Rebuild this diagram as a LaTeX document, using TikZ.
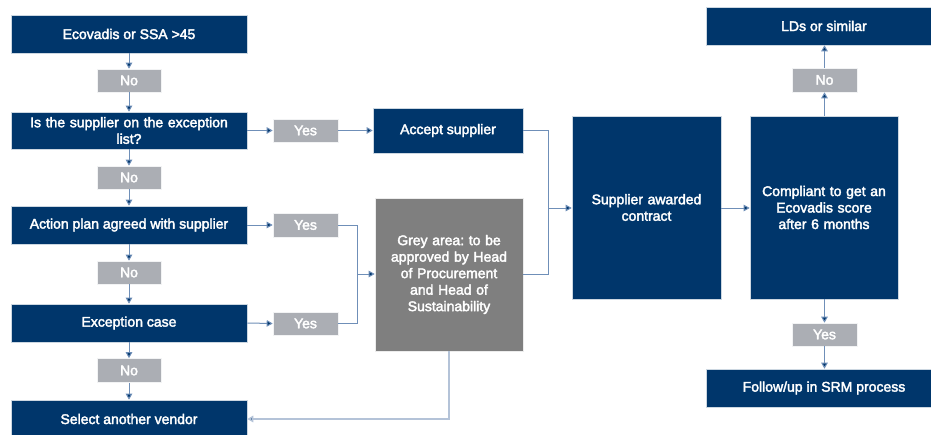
\documentclass[tikz,border=0pt]{standalone}
\usepackage{fontspec}
\setmainfont[FakeBold=2.5]{Liberation Sans}
\usetikzlibrary{arrows.meta}
\definecolor{navy}{HTML}{00366B}
\definecolor{lbl}{HTML}{ABAEB4}
\definecolor{greyarea}{HTML}{7F7F7F}
\definecolor{conn}{HTML}{6F8FB8}
\definecolor{connlight}{HTML}{B4C3D8}
\tikzset{
  txt/.style={text=white, inner sep=0pt, align=center, font=\fontsize{14}{16.5}\selectfont},
  box/.style={txt, draw=white!80!navy, line width=0.6pt, fill=navy},
  lab/.style={txt, draw=white!85!lbl, line width=0.6pt, fill=lbl},
  gbox/.style={txt, draw=white!85!greyarea, line width=0.6pt, fill=greyarea},
  conn/.style={draw=conn, line width=1pt, -{Triangle[width=6.5pt,length=6pt,fill=navy]}},
  plain/.style={draw=conn, line width=1pt},
}
\begin{document}
\frenchspacing
\begin{tikzpicture}[x=1pt,y=-1pt]
\useasboundingbox (0,0) rectangle (931,434);
\clip (0,0) rectangle (931,434);
\fill[white] (0,0) rectangle (931,434);
% left column
\node[box, minimum width=236pt, minimum height=38pt] (eco) at (129,34) {Ecovadis or SSA >45};
\node[lab, minimum width=64pt, minimum height=23pt] (no1) at (129,80.5) {No};
\node[box, minimum width=236pt, minimum height=37pt, text width=230pt] (exl) at (129,130.5) {Is the supplier on the exception\\list?};
\node[lab, minimum width=64pt, minimum height=23pt] (no2) at (129,177.5) {No};
\node[box, minimum width=236pt, minimum height=38pt] (act) at (129,225) {Action plan agreed with supplier};
\node[lab, minimum width=64pt, minimum height=23pt] (no3) at (129,272.5) {No};
\node[box, minimum width=236pt, minimum height=38pt] (exc) at (129,323) {Exception case};
\node[lab, minimum width=64pt, minimum height=24pt] (no4) at (129,370.5) {No};
\node[box, minimum width=236pt, minimum height=38pt] (sel) at (129,419) {Select another vendor};
% yes labels
\node[lab, minimum width=65pt, minimum height=23pt] (y1) at (305.5,130.5) {Yes};
\node[lab, minimum width=65pt, minimum height=24pt] (y2) at (305.5,225) {Yes};
\node[lab, minimum width=65pt, minimum height=23pt] (y3) at (305.5,323.5) {Yes};
% middle
\node[box, minimum width=150pt, minimum height=45pt] (acc) at (448,130.5) {Accept supplier};
\node[gbox, minimum width=148pt, minimum height=153pt, text width=140pt] (grey) at (449,274.5) {Grey area: to be\\approved by Head\\of Procurement\\and Head of\\Sustainability};
\node[box, minimum width=149pt, minimum height=183pt, text width=140pt] (awd) at (646.5,207.5) {Supplier awarded\\contract};
\node[box, minimum width=148pt, minimum height=183pt, text width=140pt] (cmp) at (824,207.5) {Compliant to get an\\Ecovadis score\\after 6 months};
% right column
\node[box, minimum width=236pt, minimum height=38pt] (lds) at (824,26) {};
\node[txt] at (824,26) {LDs or similar};
\node[lab, minimum width=65pt, minimum height=24pt] (no5) at (824.5,80) {No};
\node[lab, minimum width=65pt, minimum height=23pt] (y4) at (824.5,334.5) {Yes};
\node[box, minimum width=236pt, minimum height=38pt] (fol) at (824,388) {};
\node[txt] at (824,388) {Follow/up in SRM process};
% connectors left column
\draw[conn] (eco.south) -- (no1.north);
\draw[conn] (no1.south) -- (exl.north);
\draw[conn] (exl.south) -- (no2.north);
\draw[conn] (no2.south) -- (act.north);
\draw[conn] (act.south) -- (no3.north);
\draw[conn] (no3.south) -- (exc.north);
\draw[conn] (exc.south) -- (no4.north);
\draw[conn] (no4.south) -- (sel.north);
% yes branches
\draw[conn] (exl.east) -- (y1.west);
\draw[conn] (act.east) -- (y2.west);
\draw[conn] (exc.east) -- (y3.west);
\draw[conn] (y1.east) -- (acc.west);
\coordinate (jl) at (357,274);
\draw[plain] (y2.east) -| (jl);
\draw[plain] (y3.east) -| (jl);
\draw[conn] (jl) -- (grey.west |- jl);
% to awarded
\coordinate (jr) at (548,208);
\draw[plain] (acc.east) -| (jr);
\draw[plain] (grey.east) -| (jr);
\draw[conn] (jr) -- (awd.west |- jr);
% grey to select vendor
\draw[draw=connlight, line width=1.6pt, -{Triangle[width=6.5pt,length=6pt,fill=navy]}] (grey.south) |- (sel.east |- 0,419);
% right
\draw[conn] (awd.east |- 0,208) -- (cmp.west |- 0,208);
\draw[conn] (cmp.north -| no5) -- (no5.south);
\draw[conn] (no5.north) -- (lds.south -| no5);
\draw[conn] (cmp.south -| y4) -- (y4.north);
\draw[conn] (y4.south) -- (fol.north -| y4);
\end{tikzpicture}
\end{document}
